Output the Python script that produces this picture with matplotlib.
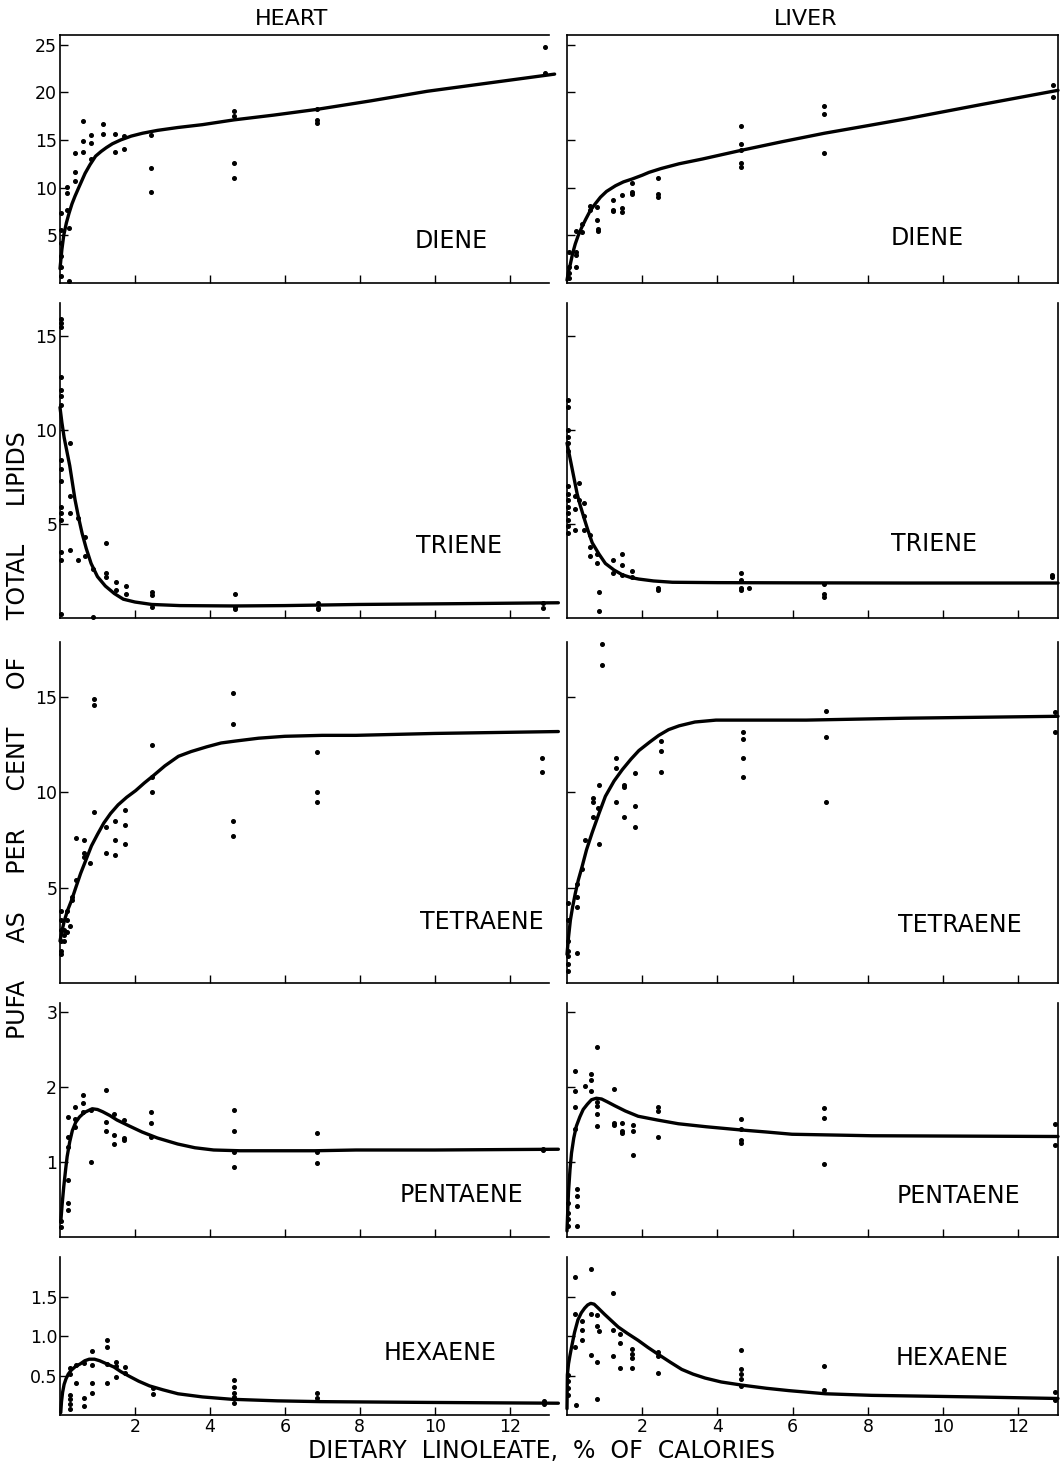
"""
PUFA composition of heart and liver lipids vs dietary linoleate.
"""
import matplotlib.pyplot as plt
import matplotlib as mpl

mpl.rcParams['font.family'] = 'DejaVu Sans'

#%% data
x_ticks = [2, 4, 6, 8, 10, 12]
col_titles = ['HEART', 'LIVER']
row_names = ['DIENE', 'TRIENE', 'TETRAENE', 'PENTAENE', 'HEXAENE']
row_ylims = [26.0, 16.75, 17.9, 3.12, 2.01]
row_yticks = [[5, 10, 15, 20, 25], [5, 10, 15], [5, 10, 15], [1, 2, 3], [0.5, 1.0, 1.5]]
row_yticklabels = [['5', '10', '15', '20', '25'], ['5', '10', '15'], ['5', '10', '15'],
                   ['1', '2', '3'], ['0.5', '1.0', '1.5']]

# DIENE
heart_diene_x = [0.02, 0.02, 0.02, 0.02, 0.02, 0.02, 0.19, 0.19, 0.19, 0.24, 0.24,
                 0.4, 0.4, 0.4, 0.62, 0.62, 0.62, 0.83, 0.83, 0.83, 1.16, 1.16,
                 1.47, 1.47, 1.71, 1.71, 2.43, 2.43, 2.43, 4.64, 4.64, 4.64, 4.64,
                 6.85, 6.85, 6.85, 12.93, 12.93]
heart_diene_y = [7.3, 5.6, 4.2, 2.8, 1.7, 0.7, 10.1, 9.4, 7.7, 5.8, 0.2,
                 13.6, 11.6, 10.7, 17.0, 14.9, 13.7, 15.5, 14.7, 13.0, 16.7, 15.6,
                 15.6, 13.7, 15.4, 14.1, 15.5, 12.1, 9.5, 18.0, 17.5, 12.6, 11.0,
                 18.2, 17.1, 16.8, 24.7, 22.0]
heart_diene_cx = [0, 0.05, 0.1, 0.17, 0.24, 0.32, 0.4, 0.5, 0.67, 0.8, 0.95, 1.1, 1.24,
                  1.4, 1.62, 1.9, 2.2, 2.6, 3.14, 3.8, 4.64, 5.7, 6.85, 8.3, 9.8, 11.5, 13.2]
heart_diene_cy = [1.5, 3.5, 5.0, 6.3, 7.3, 8.3, 9.1, 10.0, 11.5, 12.4, 13.3, 13.8, 14.2,
                  14.6, 15.0, 15.4, 15.7, 16.0, 16.3, 16.6, 17.1, 17.6, 18.2, 19.1, 20.1, 21.0, 21.9]

liver_diene_x = [0.04, 0.04, 0.04, 0.04, 0.23, 0.23, 0.23, 0.23, 0.4, 0.4, 0.6, 0.6,
                 0.8, 0.8, 0.82, 0.82, 1.22, 1.22, 1.22, 1.45, 1.45, 1.45, 1.73, 1.73, 1.73,
                 2.43, 2.43, 2.43, 4.62, 4.62, 4.62, 4.62, 4.62, 6.84, 6.84, 6.84, 12.93, 12.93]
liver_diene_y = [3.3, 1.7, 1.0, 0.5, 5.5, 3.3, 2.9, 1.7, 6.2, 5.3, 8.1, 7.7,
                 8.0, 6.6, 5.7, 5.5, 8.7, 7.7, 7.6, 9.2, 7.9, 7.4, 10.5, 9.5, 9.3,
                 11.0, 9.3, 9.0, 16.5, 14.6, 13.9, 12.6, 12.2, 18.6, 17.7, 13.6, 20.8, 19.5]
liver_diene_cx = [0, 0.04, 0.09, 0.15, 0.22, 0.3, 0.4, 0.5, 0.62, 0.75, 0.89, 1.05, 1.29,
                  1.5, 1.73, 2.0, 2.18, 2.5, 2.98, 3.6, 4.62, 5.7, 6.84, 8.0, 9.0, 11.0, 13.05]
liver_diene_cy = [0.3, 1.2, 2.0, 3.1, 4.1, 5.0, 5.9, 6.7, 7.6, 8.3, 9.0, 9.6, 10.2,
                  10.6, 10.9, 11.3, 11.6, 12.0, 12.5, 13.0, 13.9, 14.8, 15.7, 16.5, 17.2, 18.7, 20.2]

# TRIENE
heart_triene_x = [0.02, 0.02, 0.02, 0.02, 0.02, 0.02, 0.02, 0.02, 0.02, 0.02, 0.02,
                  0.02, 0.02, 0.02, 0.02, 0.02, 0.26, 0.26, 0.26, 0.26, 0.47, 0.47,
                  0.66, 0.66, 0.88, 0.88, 1.24, 1.24, 1.24, 1.5, 1.5, 1.75, 1.75,
                  2.45, 2.45, 2.45, 4.67, 4.67, 4.67, 6.88, 6.88, 6.88, 12.9, 12.9]
heart_triene_y = [15.9, 15.7, 15.5, 12.8, 12.1, 11.8, 11.3, 8.4, 7.9, 7.3, 5.9,
                  5.6, 5.2, 3.5, 3.1, 0.2, 9.3, 6.5, 5.6, 3.6, 5.3, 3.1,
                  4.3, 3.3, 2.6, 0.07, 4.0, 2.4, 2.2, 1.9, 1.5, 1.7, 1.25,
                  1.4, 1.2, 0.6, 1.3, 0.6, 0.5, 0.8, 0.55, 0.5, 0.8, 0.55]
heart_triene_cx = [0, 0.05, 0.11, 0.18, 0.26, 0.33, 0.4, 0.5, 0.59, 0.7, 0.83, 1.0,
                   1.21, 1.45, 1.69, 2.0, 2.45, 3.2, 4.64, 6.0, 7.97, 10.5, 13.3]
heart_triene_cy = [11.2, 10.4, 9.6, 8.9, 8.1, 7.2, 6.3, 5.3, 4.5, 3.7, 2.9, 2.2,
                   1.7, 1.3, 1.0, 0.85, 0.72, 0.66, 0.64, 0.66, 0.72, 0.76, 0.81]

liver_triene_x = [0.03, 0.03, 0.03, 0.03, 0.03, 0.03, 0.03, 0.03, 0.03, 0.03, 0.03,
                  0.03, 0.03, 0.03, 0.2, 0.2, 0.2, 0.31, 0.31, 0.44, 0.44, 0.44,
                  0.62, 0.62, 0.62, 0.8, 0.8, 0.84, 0.84, 1.22, 1.22, 1.47, 1.47, 1.47,
                  1.73, 1.73, 2.43, 2.43, 4.62, 4.62, 4.62, 4.62, 4.84, 6.84, 6.84, 6.84,
                  12.9, 12.9]
liver_triene_y = [11.6, 11.2, 10.0, 9.6, 9.3, 8.9, 7.0, 6.6, 6.3, 5.9, 5.6,
                  5.2, 4.9, 4.5, 6.5, 5.8, 4.7, 7.2, 6.3, 6.1, 5.4, 4.7,
                  4.4, 3.8, 3.3, 3.4, 2.9, 1.4, 0.35, 3.1, 2.4, 3.4, 2.8, 2.3,
                  2.5, 2.2, 1.6, 1.5, 2.4, 2.0, 1.6, 1.5, 1.6, 1.8, 1.3, 1.1,
                  2.3, 2.2]
liver_triene_cx = [0, 0.06, 0.13, 0.2, 0.27, 0.35, 0.44, 0.55, 0.67, 0.85, 1.02,
                   1.25, 1.47, 1.7, 1.91, 2.3, 2.8, 4.0, 6.0, 9.0, 13.05]
liver_triene_cy = [9.3, 8.7, 8.0, 7.3, 6.6, 6.0, 5.4, 4.7, 4.0, 3.4, 2.9,
                   2.55, 2.3, 2.15, 2.07, 1.97, 1.9, 1.88, 1.87, 1.86, 1.86]

# TETRAENE
heart_tetra_x = [0.02, 0.02, 0.02, 0.02, 0.02, 0.02, 0.1, 0.1, 0.1, 0.2, 0.2, 0.2,
                 0.27, 0.31, 0.31, 0.43, 0.43, 0.65, 0.65, 0.65, 0.8, 0.9, 0.9, 0.9,
                 1.23, 1.23, 1.48, 1.48, 1.48, 1.74, 1.74, 1.74, 2.45, 2.45, 2.45,
                 4.63, 4.63, 4.63, 4.63, 6.86, 6.86, 6.86, 12.87, 12.87]
heart_tetra_y = [3.8, 3.3, 2.8, 2.2, 1.7, 1.5, 2.8, 2.5, 2.2, 3.8, 3.3, 2.7,
                 3.0, 4.35, 4.5, 7.6, 5.4, 7.5, 6.8, 6.6, 6.3, 14.9, 14.6, 9.0,
                 8.2, 6.8, 8.5, 7.5, 6.7, 9.1, 8.3, 7.3, 12.5, 10.8, 10.0,
                 15.2, 13.6, 8.5, 7.7, 12.1, 10.05, 9.5, 11.8, 11.05]
heart_tetra_cx = [0, 0.06, 0.12, 0.2, 0.31, 0.42, 0.55, 0.7, 0.84, 1.0, 1.17, 1.35,
                  1.55, 1.78, 2.02, 2.25, 2.5, 2.8, 3.16, 3.5, 3.92, 4.3, 4.68, 5.3,
                  6.0, 7.0, 7.9, 10.0, 13.3]
heart_tetra_cy = [2.2, 2.8, 3.3, 3.8, 4.35, 5.0, 5.75, 6.5, 7.2, 7.8, 8.4, 8.9,
                  9.35, 9.75, 10.1, 10.5, 10.9, 11.4, 11.9, 12.15, 12.4, 12.6, 12.7, 12.85,
                  12.95, 13.0, 13.0, 13.1, 13.2]

liver_tetra_x = [0.03, 0.03, 0.03, 0.03, 0.03, 0.03, 0.03, 0.27, 0.27, 0.27, 0.27,
                 0.4, 0.49, 0.68, 0.68, 0.68, 0.83, 0.85, 0.85, 0.93, 0.93,
                 1.29, 1.29, 1.29, 1.51, 1.51, 1.51, 1.8, 1.8, 1.8, 2.5, 2.5, 2.5,
                 4.68, 4.68, 4.68, 4.68, 6.89, 6.89, 6.89, 12.98, 12.98]
liver_tetra_y = [4.2, 3.3, 2.2, 1.7, 1.4, 1.0, 0.65, 5.2, 4.5, 4.0, 1.6,
                 6.0, 7.5, 9.7, 9.5, 8.7, 9.2, 10.4, 7.3, 17.8, 16.7,
                 11.8, 11.3, 9.5, 10.4, 10.3, 8.7, 11.0, 9.3, 8.2, 12.7, 12.2, 11.1,
                 13.2, 12.8, 11.8, 10.8, 14.3, 12.9, 9.5, 14.2, 13.2]
liver_tetra_cx = [0, 0.04, 0.09, 0.15, 0.22, 0.3, 0.4, 0.52, 0.67, 0.85, 1.02, 1.25,
                  1.47, 1.7, 1.91, 2.2, 2.44, 2.7, 2.98, 3.4, 3.96, 5.0, 6.36, 9.0, 13.05]
liver_tetra_cy = [1.5, 2.4, 3.3, 4.0, 4.7, 5.4, 6.1, 7.0, 7.9, 8.9, 9.8, 10.6,
                  11.2, 11.75, 12.2, 12.65, 13.0, 13.3, 13.5, 13.7, 13.8, 13.8, 13.8, 13.9, 14.0]

# PENTAENE
heart_penta_x = [0.02, 0.02, 0.21, 0.21, 0.21, 0.21, 0.21, 0.21, 0.4, 0.4, 0.4,
                 0.62, 0.62, 0.62, 0.84, 0.84, 1.22, 1.22, 1.22, 1.43, 1.43, 1.43,
                 1.71, 1.71, 1.71, 2.43, 2.43, 2.43, 4.64, 4.64, 4.64, 4.64,
                 6.85, 6.85, 6.85, 12.88, 12.88]
heart_penta_y = [0.22, 0.13, 1.6, 1.33, 1.2, 0.76, 0.45, 0.36, 1.74, 1.58, 1.47,
                 1.89, 1.79, 1.67, 1.0, 1.69, 1.96, 1.53, 1.41, 1.64, 1.36, 1.24,
                 1.56, 1.32, 1.3, 1.67, 1.52, 1.33, 1.69, 1.42, 1.13, 0.93,
                 1.39, 1.13, 0.99, 1.17, 1.16]
heart_penta_cx = [0.02, 0.06, 0.1, 0.15, 0.19, 0.26, 0.33, 0.42, 0.52, 0.65, 0.86,
                  1.0, 1.14, 1.33, 1.52, 1.85, 2.19, 2.6, 3.14, 3.6, 4.1, 4.8, 5.5,
                  6.8, 7.9, 10.0, 13.3]
heart_penta_cy = [0.2, 0.45, 0.67, 0.9, 1.07, 1.27, 1.42, 1.53, 1.6, 1.66, 1.71,
                  1.7, 1.67, 1.62, 1.56, 1.48, 1.4, 1.32, 1.24, 1.19, 1.16, 1.15, 1.15,
                  1.15, 1.16, 1.16, 1.17]

liver_penta_x = [0.02, 0.02, 0.02, 0.02, 0.22, 0.22, 0.22, 0.22, 0.27, 0.27, 0.27, 0.27,
                 0.47, 0.63, 0.63, 0.63, 0.81, 0.81, 0.81, 0.81, 0.81, 1.24, 1.24, 1.24,
                 1.45, 1.45, 1.45, 1.75, 1.75, 1.75, 2.43, 2.43, 2.43,
                 4.63, 4.63, 4.63, 4.63, 6.83, 6.83, 6.83, 12.96, 12.96]
liver_penta_y = [0.46, 0.32, 0.24, 0.15, 2.21, 1.95, 1.74, 1.44, 0.64, 0.55, 0.41, 0.15,
                 2.01, 2.17, 2.09, 1.95, 2.53, 1.8, 1.75, 1.64, 1.48, 1.98, 1.52, 1.49,
                 1.52, 1.42, 1.39, 1.5, 1.42, 1.1, 1.74, 1.68, 1.34,
                 1.58, 1.44, 1.29, 1.25, 1.72, 1.59, 0.98, 1.51, 1.23]
liver_penta_cx = [0.0, 0.02, 0.04, 0.08, 0.12, 0.18, 0.25, 0.34, 0.43, 0.54, 0.65,
                  0.78, 0.92, 1.08, 1.27, 1.55, 1.89, 2.4, 2.96, 3.7, 4.56, 5.3, 5.98,
                  8.1, 13.05]
liver_penta_cy = [0.08, 0.35, 0.6, 0.9, 1.12, 1.32, 1.48, 1.6, 1.7, 1.77, 1.83,
                  1.85, 1.84, 1.8, 1.75, 1.68, 1.61, 1.56, 1.51, 1.47, 1.43, 1.4, 1.37,
                  1.35, 1.34]

# HEXAENE
heart_hexa_x = [0.26, 0.26, 0.26, 0.26, 0.26, 0.26, 0.43, 0.43, 0.64, 0.64, 0.64,
                0.85, 0.85, 0.85, 0.85, 1.25, 1.25, 1.25, 1.25, 1.49, 1.49, 1.49,
                1.73, 1.73, 2.47, 2.47, 4.65, 4.65, 4.65, 4.65, 4.65,
                6.86, 6.86, 12.92, 12.92]
heart_hexa_y = [0.6, 0.52, 0.25, 0.2, 0.14, 0.08, 0.63, 0.41, 0.66, 0.21, 0.11,
                0.81, 0.64, 0.41, 0.28, 0.95, 0.86, 0.65, 0.41, 0.68, 0.62, 0.48,
                0.61, 0.54, 0.34, 0.27, 0.44, 0.35, 0.28, 0.23, 0.15,
                0.28, 0.21, 0.18, 0.14]
heart_hexa_cx = [0.02, 0.04, 0.07, 0.11, 0.16, 0.22, 0.3, 0.42, 0.54, 0.66, 0.78,
                 0.92, 1.06, 1.25, 1.44, 1.63, 1.82, 2.1, 2.39, 2.75, 3.15, 3.8, 4.58,
                 5.8, 6.95, 9.8, 13.3]
heart_hexa_cy = [0.03, 0.17, 0.29, 0.39, 0.46, 0.52, 0.57, 0.62, 0.65, 0.69, 0.71,
                 0.71, 0.69, 0.65, 0.61, 0.55, 0.5, 0.43, 0.37, 0.32, 0.27, 0.23, 0.2,
                 0.18, 0.17, 0.16, 0.15]

liver_hexa_x = [0.02, 0.02, 0.02, 0.02, 0.22, 0.22, 0.22, 0.23, 0.41, 0.41, 0.41,
                0.63, 0.63, 0.63, 0.81, 0.81, 0.81, 0.81, 0.84, 1.23, 1.23, 1.23,
                1.4, 1.4, 1.4, 1.72, 1.72, 1.72, 1.72, 2.41, 2.41, 2.41,
                4.63, 4.63, 4.63, 4.63, 4.63, 6.83, 6.83, 12.96, 12.96]
liver_hexa_y = [0.51, 0.43, 0.34, 0.25, 1.76, 1.29, 0.87, 0.13, 1.19, 1.08, 0.96,
                1.86, 1.29, 0.76, 1.27, 1.13, 0.67, 0.2, 1.07, 1.55, 1.08, 0.75,
                1.03, 0.91, 0.6, 0.84, 0.78, 0.73, 0.6, 0.8, 0.75, 0.53,
                0.83, 0.58, 0.52, 0.46, 0.37, 0.62, 0.32, 0.29, 0.19]
liver_hexa_cx = [0.0, 0.01, 0.04, 0.08, 0.12, 0.2, 0.29, 0.38, 0.47, 0.55, 0.63,
                 0.72, 0.83, 1.0, 1.18, 1.36, 1.6, 1.89, 2.15, 2.43, 2.75, 3.05, 3.35,
                 3.67, 4.1, 4.65, 5.3, 5.9, 6.87, 8.1, 10.8, 13.05]
liver_hexa_cy = [0.08, 0.51, 0.65, 0.76, 0.86, 1.05, 1.21, 1.3, 1.36, 1.4, 1.42,
                 1.41, 1.36, 1.28, 1.2, 1.12, 1.04, 0.95, 0.86, 0.77, 0.67, 0.58, 0.52,
                 0.47, 0.42, 0.38, 0.34, 0.31, 0.27, 0.25, 0.23, 0.21]

heart = [(heart_diene_x, heart_diene_y, heart_diene_cx, heart_diene_cy),
         (heart_triene_x, heart_triene_y, heart_triene_cx, heart_triene_cy),
         (heart_tetra_x, heart_tetra_y, heart_tetra_cx, heart_tetra_cy),
         (heart_penta_x, heart_penta_y, heart_penta_cx, heart_penta_cy),
         (heart_hexa_x, heart_hexa_y, heart_hexa_cx, heart_hexa_cy)]
liver = [(liver_diene_x, liver_diene_y, liver_diene_cx, liver_diene_cy),
         (liver_triene_x, liver_triene_y, liver_triene_cx, liver_triene_cy),
         (liver_tetra_x, liver_tetra_y, liver_tetra_cx, liver_tetra_cy),
         (liver_penta_x, liver_penta_y, liver_penta_cx, liver_penta_cy),
         (liver_hexa_x, liver_hexa_y, liver_hexa_cx, liver_hexa_cy)]

#%% layout (pixels of the 1062 x 1467 page)
W, H = 1062., 1467.
col_px = [(60, 549), (567, 1058)]
row_px = [(35, 283), (303, 618), (642, 983), (1003, 1237), (1257, 1415)]
title_x = [0.474, 0.485]
label_pos = [[(0.80, 0.17), (0.733, 0.18)],
             [(0.816, 0.23), (0.747, 0.235)],
             [(0.863, 0.18), (0.80, 0.17)],
             [(0.82, 0.18), (0.798, 0.175)],
             [(0.777, 0.39), (0.784, 0.36)]]

fig = plt.figure(figsize=(W / 100, H / 100), dpi=100)

for r in range(5):
    top, bot = row_px[r]
    for c in range(2):
        left, right = col_px[c]
        ax = fig.add_axes([left / W, 1 - bot / H, (right - left) / W, (bot - top) / H])
        xs, ys, cx, cy = (heart, liver)[c][r]

        ax.plot(cx, cy, color='black', lw=2.4, clip_on=False, solid_capstyle='round')
        ax.plot(xs, ys, 'o', color='black', ms=2.6, clip_on=False)

        ax.set_xlim(0, 13.05)
        ax.set_ylim(0, row_ylims[r])
        ax.set_xticks(x_ticks)
        ax.set_yticks(row_yticks[r])
        ax.tick_params(direction='in', length=6, width=1.0, labelsize=12.5, pad=2)

        if c == 0:
            ax.set_yticklabels(row_yticklabels[r])
        else:
            ax.set_yticklabels([])
        if r == 4:
            ax.set_xticklabels([str(t) for t in x_ticks], fontsize=12.5)
        else:
            ax.set_xticklabels([])

        for side in ['left', 'bottom']:
            ax.spines[side].set_linewidth(1.2)
        ax.spines['top'].set_visible(r == 0)
        ax.spines['top'].set_linewidth(1.2)
        ax.spines['right'].set_visible(c == 1)
        ax.spines['right'].set_linewidth(1.2)

        lx, ly = label_pos[r][c]
        ax.text(lx, ly, row_names[r], transform=ax.transAxes, fontsize=17,
                ha='center', va='center')

        if r == 0:
            ax.set_title(col_titles[c], fontsize=16, pad=7, x=title_x[c])

fig.text(0.51, 0.0106, 'DIETARY  LINOLEATE,  %  OF  CALORIES', fontsize=17,
         ha='center', va='center')
fig.text(0.017, 0.499, 'PUFA     AS     PER     CENT     OF     TOTAL     LIPIDS',
         fontsize=17, rotation=90, ha='center', va='center')

fig.savefig('out.png', dpi=100, facecolor='white')
